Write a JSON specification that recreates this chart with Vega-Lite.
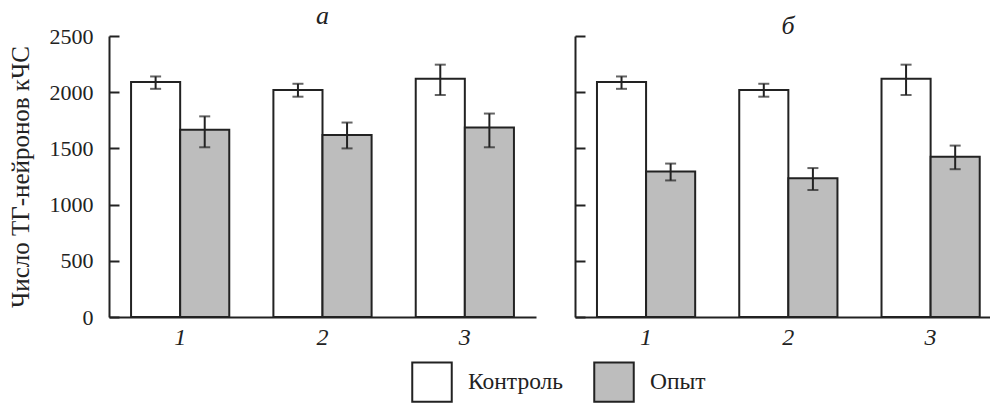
{
  "$schema": "https://vega.github.io/schema/vega-lite/v6.json",
  "padding": {"left": 7, "top": 3, "right": 0, "bottom": 0},
  "background": "white",
  "config": {
    "font": "Liberation Serif",
    "view": {"stroke": null},
    "concat": {"spacing": 38},
    "axis": {"labelFontSize": 22, "labelColor": "#222", "labelFont": "Liberation Serif"},
    "title": {"fontSize": 26, "fontStyle": "italic", "fontWeight": "normal", "color": "#222", "offset": -4}
  },
  "data": {
    "values": [
      {"panel": "а", "group": "1", "cond": "Контроль", "value": 2090, "lo": 2030, "hi": 2140},
      {"panel": "а", "group": "1", "cond": "Опыт", "value": 1665, "lo": 1510, "hi": 1785},
      {"panel": "а", "group": "2", "cond": "Контроль", "value": 2020, "lo": 1960, "hi": 2075},
      {"panel": "а", "group": "2", "cond": "Опыт", "value": 1620, "lo": 1500, "hi": 1730},
      {"panel": "а", "group": "3", "cond": "Контроль", "value": 2120, "lo": 1975, "hi": 2245},
      {"panel": "а", "group": "3", "cond": "Опыт", "value": 1685, "lo": 1510, "hi": 1810},
      {"panel": "б", "group": "1", "cond": "Контроль", "value": 2090, "lo": 2030, "hi": 2140},
      {"panel": "б", "group": "1", "cond": "Опыт", "value": 1295, "lo": 1215, "hi": 1365},
      {"panel": "б", "group": "2", "cond": "Контроль", "value": 2020, "lo": 1960, "hi": 2075},
      {"panel": "б", "group": "2", "cond": "Опыт", "value": 1235, "lo": 1130, "hi": 1325},
      {"panel": "б", "group": "3", "cond": "Контроль", "value": 2120, "lo": 1975, "hi": 2245},
      {"panel": "б", "group": "3", "cond": "Опыт", "value": 1425, "lo": 1315, "hi": 1525}
    ]
  },
  "hconcat": [
    {
      "width": 427,
      "height": 281,
      "title": {"text": "а"},
      "transform": [{"filter": "datum.panel === 'а'"}],
      "encoding": {
        "x": {
          "field": "group", "type": "nominal", "title": null,
          "scale": {"paddingInner": 0.31, "paddingOuter": 0.155},
          "axis": {"ticks": false, "labelAngle": 0, "labelFontStyle": "italic", "labelFontSize": 24, "labelColor": "#222", "labelPadding": 8, "domainColor": "#222", "domainWidth": 2}
        },
        "xOffset": {"field": "cond", "type": "nominal", "scale": {"paddingInner": 0, "paddingOuter": 0}}
      },
      "layer": [
        {
          "mark": {"type": "bar", "stroke": "#222", "strokeWidth": 2},
          "encoding": {
            "y": {
              "field": "value", "type": "quantitative",
              "scale": {"domain": [0, 2500], "nice": false},
              "axis": {"values": [0, 500, 1000, 1500, 2000, 2500], "format": "d", "grid": false, "tickSize": -10, "tickWidth": 2, "tickColor": "#222", "domainColor": "#222", "domainWidth": 2, "labelFontSize": 22, "labelColor": "#222", "labelPadding": 26, "title": "Число ТГ-нейронов кЧС", "titleFontSize": 25, "titleFontWeight": "normal", "titleColor": "#222", "titlePadding": 16}
            },
            "fill": {
              "field": "cond", "type": "nominal",
              "scale": {"domain": ["Контроль", "Опыт"], "range": ["#ffffff", "#bdbdbd"]},
              "legend": {"orient": "none", "legendX": 302, "legendY": 325, "direction": "horizontal", "title": null, "symbolType": "square", "symbolSize": 1560, "symbolStrokeColor": "#222", "symbolStrokeWidth": 2, "labelFontSize": 23.5, "labelColor": "#222", "labelOffset": 15, "columnPadding": 26}
            }
          }
        },
        {
          "mark": {"type": "rule", "stroke": "#222", "strokeWidth": 2},
          "encoding": {"y": {"field": "lo", "type": "quantitative"}, "y2": {"field": "hi"}}
        },
        {
          "mark": {"type": "tick", "color": "#222", "size": 11, "thickness": 2},
          "encoding": {"y": {"field": "lo", "type": "quantitative"}}
        },
        {
          "mark": {"type": "tick", "color": "#222", "size": 11, "thickness": 2},
          "encoding": {"y": {"field": "hi", "type": "quantitative"}}
        }
      ]
    },
    {
      "width": 416,
      "height": 281,
      "title": {"text": "б", "dx": 5},
      "transform": [{"filter": "datum.panel === 'б'"}],
      "encoding": {
        "x": {
          "field": "group", "type": "nominal", "title": null,
          "scale": {"paddingInner": 0.31, "paddingOuter": 0.117, "align": 0.66},
          "axis": {"ticks": false, "labelAngle": 0, "labelFontStyle": "italic", "labelFontSize": 24, "labelColor": "#222", "labelPadding": 8, "domainColor": "#222", "domainWidth": 2}
        },
        "xOffset": {"field": "cond", "type": "nominal", "scale": {"paddingInner": 0, "paddingOuter": 0}}
      },
      "layer": [
        {
          "mark": {"type": "bar", "stroke": "#222", "strokeWidth": 2},
          "encoding": {
            "y": {
              "field": "value", "type": "quantitative",
              "scale": {"domain": [0, 2500], "nice": false},
              "axis": {"values": [0, 500, 1000, 1500, 2000, 2500], "grid": false, "tickSize": -10, "tickWidth": 2, "tickColor": "#222", "domainColor": "#222", "domainWidth": 2, "labels": false, "title": null}
            },
            "fill": {"field": "cond", "type": "nominal", "scale": {"domain": ["Контроль", "Опыт"], "range": ["#ffffff", "#bdbdbd"]}}
          }
        },
        {
          "mark": {"type": "rule", "stroke": "#222", "strokeWidth": 2},
          "encoding": {"y": {"field": "lo", "type": "quantitative"}, "y2": {"field": "hi"}}
        },
        {
          "mark": {"type": "tick", "color": "#222", "size": 11, "thickness": 2},
          "encoding": {"y": {"field": "lo", "type": "quantitative"}}
        },
        {
          "mark": {"type": "tick", "color": "#222", "size": 11, "thickness": 2},
          "encoding": {"y": {"field": "hi", "type": "quantitative"}}
        }
      ]
    }
  ],
  "resolve": {"scale": {"fill": "shared"}}
}
